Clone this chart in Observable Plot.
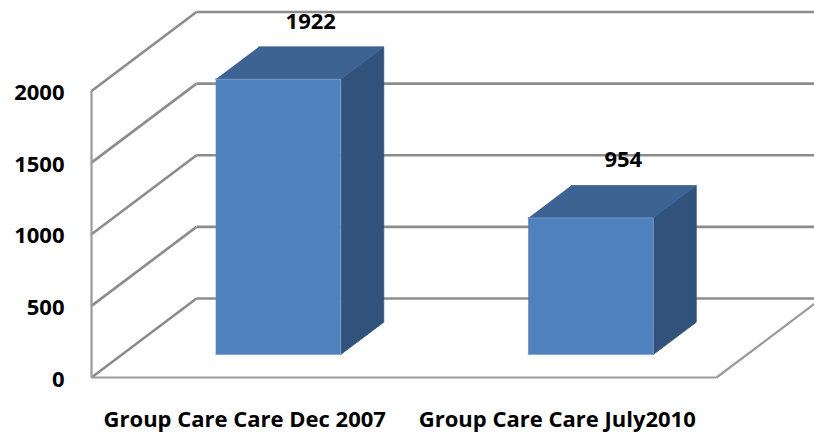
<!DOCTYPE html>
<html><head><meta charset="utf-8">
<script src="https://cdn.jsdelivr.net/npm/d3@7"></script>
<script src="https://cdn.jsdelivr.net/npm/@observablehq/plot@0.6"></script>
<style>html,body{margin:0;padding:0;background:#fff;}</style>
</head><body><div id="chart"></div>
<script>
// ---- data ----
const categories = ["Group Care Care Dec 2007", "Group Care Care July2010"];
const values = [1922, 954];
const yTicks = [0, 500, 1000, 1500, 2000];

// ---- layout / projection constants ----
const W = 814, H = 437;
const mL = 91, mR = 98, mT = 90.5, mB = 60;
const yMax = 2000;
const depthPx = [105, -79];                 // full floor depth offset in pixels
const pxPerX = (W - mL - mR) / categories.length;
const pxPerY = (H - mT - mB) / yMax;
const DX = depthPx[0] / pxPerX;             // depth in x data units
const DY = -depthPx[1] / pxPerY;            // depth in y data units
const F0 = 0.29, F1 = 0.70;                 // bar front/back depth
const BAR = 0.4;                            // bar width (fraction of category)
const P = (x, v, f) => ({x: x + f * DX, y: v + f * DY});

const grid = "#8c8c8c";

// walls
const backLines = yTicks.map(t => ({a: P(0, t, 1), b: P(2, t, 1)}));
const sideLines = yTicks.map(t => ({a: P(0, t, 0), b: P(0, t, 1)}));
const frame = [
  {a: P(0, 0, 0), b: P(0, yMax, 0)},
  {a: P(0, 0, 0), b: P(2, 0, 0)},
  {a: P(2, 0, 0), b: P(2, 0, 1)}
];
const wallLinks = [...backLines, ...sideLines];

// bar faces
const faces = [];
values.forEach((v, i) => {
  const xl = i + 0.5 - BAR / 2, xr = i + 0.5 + BAR / 2;
  const side = [P(xr, 0, F0), P(xr, 0, F1), P(xr, v, F1), P(xr, v, F0)];
  const top = [P(xl, v, F0), P(xr, v, F0), P(xr, v, F1), P(xl, v, F1)];
  const front = [P(xl, 0, F0), P(xr, 0, F0), P(xr, v, F0), P(xl, v, F0)];
  side.forEach(p => faces.push({...p, id: "s" + i, kind: "side"}));
  top.forEach(p => faces.push({...p, id: "t" + i, kind: "top"}));
  front.forEach(p => faces.push({...p, id: "f" + i, kind: "front"}));
});
const faceColor = {front: "#4f81bd", top: "#3d6392", side: "#31527b"};

const labels = values.map((v, i) => ({...P(i + 0.5, v, 0.6), v}));

const chart = Plot.plot({
  width: W, height: H,
  marginLeft: mL, marginRight: mR, marginTop: mT, marginBottom: mB,
  style: {fontFamily: "'Open Sans', sans-serif", background: "#fff"},
  x: {type: "linear", domain: [0, 2], label: null},
  y: {type: "linear", domain: [0, yMax], label: null},
  marks: [
    Plot.link(wallLinks, {x1: d => d.a.x, y1: d => d.a.y, x2: d => d.b.x, y2: d => d.b.y,
      stroke: grid, strokeWidth: 2.6}),
    Plot.link(frame, {x1: d => d.a.x, y1: d => d.a.y, x2: d => d.b.x, y2: d => d.b.y,
      stroke: "#9a9a9a", strokeWidth: 2.2}),
    Plot.line(faces, {x: "x", y: "y", z: "id", fill: d => faceColor[d.kind],
      stroke: d => d.kind === "front" ? "#7a9fd0" : faceColor[d.kind], strokeWidth: 0.8, curve: "linear"}),
    Plot.text(labels, {x: "x", y: "y", text: d => String(d.v), dy: -33,
      fontSize: 22, fontWeight: "bold", fill: "#000", lineAnchor: "middle"}),
    Plot.axisY(yTicks, {label: null, tickSize: 0, tickPadding: 27, fontSize: 22, fontWeight: "bold",
      fill: "#000", tickFormat: d => String(d), dy: 2}),
    Plot.axisX(categories.map((c, i) => i + 0.5), {label: null, tickSize: 0, tickPadding: 34, fontSize: 22,
      fontWeight: "bold", fill: "#000", dx: -3, tickFormat: d => categories[Math.round(d - 0.5)]})
  ]
});
document.getElementById("chart").appendChild(chart);
</script>
</body></html>
